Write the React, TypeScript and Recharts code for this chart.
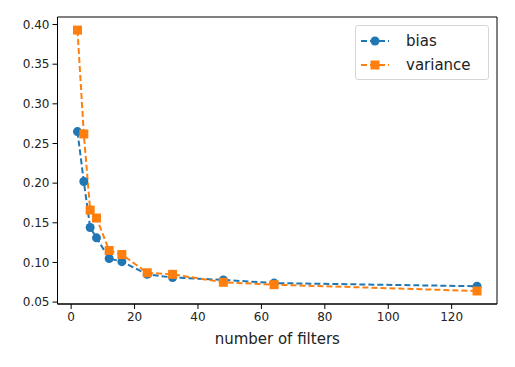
import { LineChart, Line, XAxis, YAxis, ReferenceArea } from "recharts";

const filters = [2, 4, 6, 8, 12, 16, 24, 32, 48, 64, 128];
const bias = [0.265, 0.202, 0.144, 0.131, 0.105, 0.101, 0.085, 0.081, 0.078, 0.074, 0.070];
const variance = [0.393, 0.262, 0.166, 0.156, 0.115, 0.110, 0.087, 0.085, 0.075, 0.072, 0.064];

const xTicks = [0, 20, 40, 60, 80, 100, 120];
const yTicks = [0.05, 0.1, 0.15, 0.2, 0.25, 0.3, 0.35, 0.4];

const xDomain: [number, number] = [-4.3, 134.3];
const yDomain: [number, number] = [0.0476, 0.4095];

const BLUE = "#1f77b4";
const ORANGE = "#ff7f0e";
const FONT = "'DejaVu Sans', sans-serif";

const data = filters.map((f, i) => ({ filters: f, bias: bias[i], variance: variance[i] }));

function SquareDot(props: any) {
  const { cx, cy, index } = props;
  if (cx == null || cy == null) return null;
  return <rect key={index} x={cx - 4.5} y={cy - 4.5} width={9} height={9} fill={ORANGE} />;
}

// legend drawn as an overlay so it doesn't eat into the plot area
function LegendBox() {
  const items = [
    { name: "bias", color: BLUE, square: false },
    { name: "variance", color: ORANGE, square: true },
  ];
  return (
    <div
      style={{
        position: "absolute",
        left: 355,
        top: 25,
        width: 134,
        height: 55,
        boxSizing: "border-box",
        border: "1px solid #d6d6d6",
        borderRadius: 3,
        background: "#fff",
        padding: "3px 0 0 5px",
        fontFamily: FONT,
        fontSize: 15,
        color: "#222",
      }}
    >
      {items.map((it) => (
        <div key={it.name} style={{ display: "flex", alignItems: "center", height: 24 }}>
          <svg width={30} height={12} style={{ marginRight: 15 }}>
            <line x1={0} y1={6} x2={28} y2={6} stroke={it.color} strokeWidth={2} strokeDasharray="6 3" />
            {it.square ? (
              <rect x={9.5} y={1.5} width={9} height={9} fill={it.color} />
            ) : (
              <circle cx={14} cy={6} r={4.5} fill={it.color} />
            )}
          </svg>
          <span>{it.name}</span>
        </div>
      ))}
    </div>
  );
}

export default function App() {
  return (
    <div style={{ position: "absolute", left: 0, top: 0, background: "#fff" }}>
      <LineChart width={515} height={367} data={data} margin={{ top: 17, right: 18, left: 0, bottom: 0 }}>
        <XAxis
          dataKey="filters"
          type="number"
          domain={xDomain}
          ticks={xTicks}
          tickSize={5}
          tickMargin={3}
          height={63}
          axisLine={{ stroke: "#000" }}
          tickLine={{ stroke: "#000" }}
          tick={{ fill: "#222", fontSize: 12, fontFamily: FONT }}
          label={{
            value: "number of filters",
            position: "insideBottom",
            offset: 23,
            fill: "#222",
            fontSize: 15,
            fontFamily: FONT,
          }}
        />
        <YAxis
          type="number"
          domain={yDomain}
          ticks={yTicks}
          allowDataOverflow
          width={57.5}
          tickSize={5}
          tickMargin={3}
          tickFormatter={(v: number) => v.toFixed(2)}
          axisLine={{ stroke: "#000" }}
          tickLine={{ stroke: "#000" }}
          tick={{ fill: "#222", fontSize: 12, fontFamily: FONT }}
        />
        <ReferenceArea
          x1={xDomain[0]}
          x2={xDomain[1]}
          y1={yDomain[0]}
          y2={yDomain[1]}
          fill="none"
          stroke="#000"
          strokeWidth={1}
        />
        <Line
          dataKey="bias"
          stroke={BLUE}
          strokeWidth={2}
          strokeDasharray="6 3"
          dot={{ r: 4.5, fill: BLUE, stroke: "none" }}
          isAnimationActive={false}
        />
        <Line
          dataKey="variance"
          stroke={ORANGE}
          strokeWidth={2}
          strokeDasharray="6 3"
          dot={<SquareDot />}
          isAnimationActive={false}
        />
      </LineChart>
      <LegendBox />
    </div>
  );
}
